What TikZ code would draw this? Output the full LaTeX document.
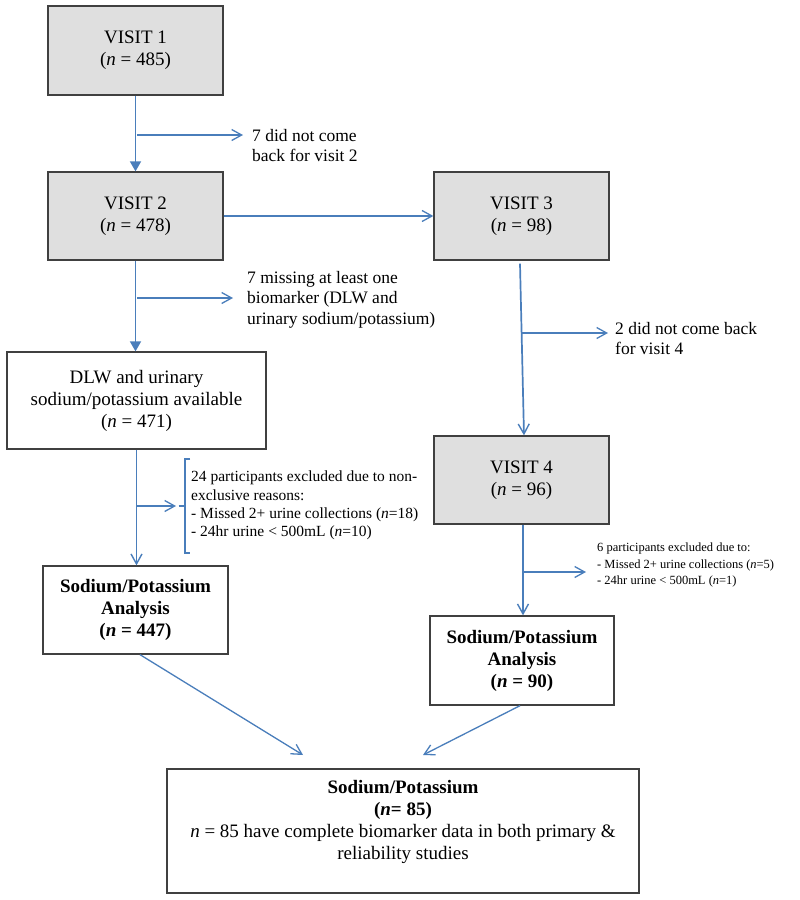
\documentclass[tikz,border=0pt]{standalone}
\usepackage{fontspec}
\setmainfont{Liberation Serif}
\usetikzlibrary{arrows.meta,calc}
\definecolor{arrowblue}{HTML}{4A7EBB}
\definecolor{boxgray}{HTML}{DFDFDF}
\definecolor{boxline}{HTML}{404040}
\begin{document}
\begin{tikzpicture}[x=1pt,y=-1pt,
  box/.style={draw=boxline, line width=1.3pt, align=center, inner sep=0pt, font=\fontsize{19}{22}\selectfont},
  graybox/.style={box, fill=boxgray},
  flow/.style={draw=arrowblue, line width=1.3pt},
  mainflow/.style={draw=arrowblue, line width=1.7pt},
  filledhead/.style={mainflow, -{Triangle[length=10pt,width=11pt]}},
  openhead/.style={flow, -{Straight Barb[length=10pt,width=11pt,line width=1.3pt]}},
  mainopen/.style={mainflow, -{Straight Barb[length=10pt,width=11pt,line width=1.4pt]}},
  note/.style={align=left, inner sep=0pt, anchor=north west, font=\fontsize{17.5}{20.5}\selectfont},
]
\useasboundingbox (0,0) rectangle (800,900);
\fill[white] (0,0) rectangle (800,900);

% boxes
\node[graybox, minimum width=175pt, minimum height=89pt] (v1) at (135.5,50.5) {VISIT 1\\(\textit{n} = 485)};
\node[graybox, minimum width=175pt, minimum height=88pt] (v2) at (135.5,216) {VISIT 2\\(\textit{n} = 478)};
\node[graybox, minimum width=175pt, minimum height=88pt] (v3) at (521.5,216) {VISIT 3\\(\textit{n} = 98)};
\node[graybox, minimum width=175pt, minimum height=88pt] (v4) at (521.5,480) {VISIT 4\\(\textit{n} = 96)};
\node[box, minimum width=259pt, minimum height=97pt] (dlw) at (136.5,400.5) {DLW and urinary\\sodium/potassium available\\(\textit{n} = 471)};
\node[box, minimum width=185pt, minimum height=88pt] (sp1) at (135.5,610) {\textbf{Sodium/Potassium}\\\textbf{Analysis}\\\textbf{(\textit{n} = 447)}};
\node[box, minimum width=184pt, minimum height=89pt] (sp2) at (522,660.5) {\textbf{Sodium/Potassium}\\\textbf{Analysis}\\\textbf{(\textit{n} = 90)}};
\node[box, minimum width=472pt, minimum height=124pt] (fin) at (403,831) {\textbf{Sodium/Potassium}\\\textbf{(\textit{n}= 85)}\\\textit{n} = 85 have complete biomarker data in both primary \&\\reliability studies\\\mbox{}};

% main connectors
\draw[filledhead] (v1.south) -- (v2.north);
\draw[filledhead] (v2.south) -- (v2.south|-dlw.north);
\draw[openhead] (v2.east) -- (v3.west);
\draw[mainopen] ([xshift=-1.5pt,yshift=-3pt]v3.south) -- ([xshift=2.5pt]v4.north);
\draw[mainopen] (dlw.south) -- (dlw.south|-sp1.north);
\draw[mainopen] ([xshift=1.5pt]v4.south) -- ([xshift=1.5pt]v4.south|-sp2.north);

\coordinate (e1) at (303,755);
\coordinate (e2) at (423,755);
\draw[openhead] ([xshift=4.5pt]sp1.south) -- (e1);
\draw[openhead] ([xshift=-2pt]sp2.south) -- (e2);

% side branches
\coordinate (b1s) at (137,135); \coordinate (b1e) at (243,135);
\draw[openhead] (b1s) -- (b1e);
\node[note] (t1) at (252,129) {7 did not come\\back for visit 2};

\coordinate (b2s) at (137,298); \coordinate (b2e) at (233,298);
\draw[openhead] (b2s) -- (b2e);
\node[note] (t2) at (247,271) {7 missing at least one\\biomarker (DLW and\\urinary sodium/potassium)};

\coordinate (b3s) at (522,333); \coordinate (b3e) at (608,333);
\draw[openhead] (b3s) -- (b3e);
\node[note] (t3) at (615,322) {2 did not come back\\for visit 4};

\coordinate (b4s) at (137,506); \coordinate (b4e) at (176,506);
\draw[openhead] (b4s) -- (b4e);
\coordinate (br1) at (190,459); \coordinate (br2) at (185,459);
\coordinate (br3) at (185,553); \coordinate (br4) at (190,553);
\coordinate (brm) at (178.5,506); \coordinate (brn) at (185,506);
\draw[flow] (br1) -- (br2) -- (br3) -- (br4);
\draw[flow] (brm) -- (brn);
\node[note, font=\fontsize{15.5}{18.1}\selectfont] (t4) at (191,471) {24 participants excluded due to non-\\exclusive reasons:\\- Missed 2+ urine collections (\textit{n}=18)\\- 24hr urine < 500mL (\textit{n}=10)};

\coordinate (b5s) at (523,572); \coordinate (b5e) at (586,572);
\draw[openhead] (b5s) -- (b5e);
\node[note, font=\fontsize{12.5}{16.7}\selectfont] (t5) at (597,542.5) {6 participants excluded due to:\\- Missed 2+ urine collections (\textit{n}=5)\\- 24hr urine < 500mL (\textit{n}=1)};
\end{tikzpicture}
\end{document}
